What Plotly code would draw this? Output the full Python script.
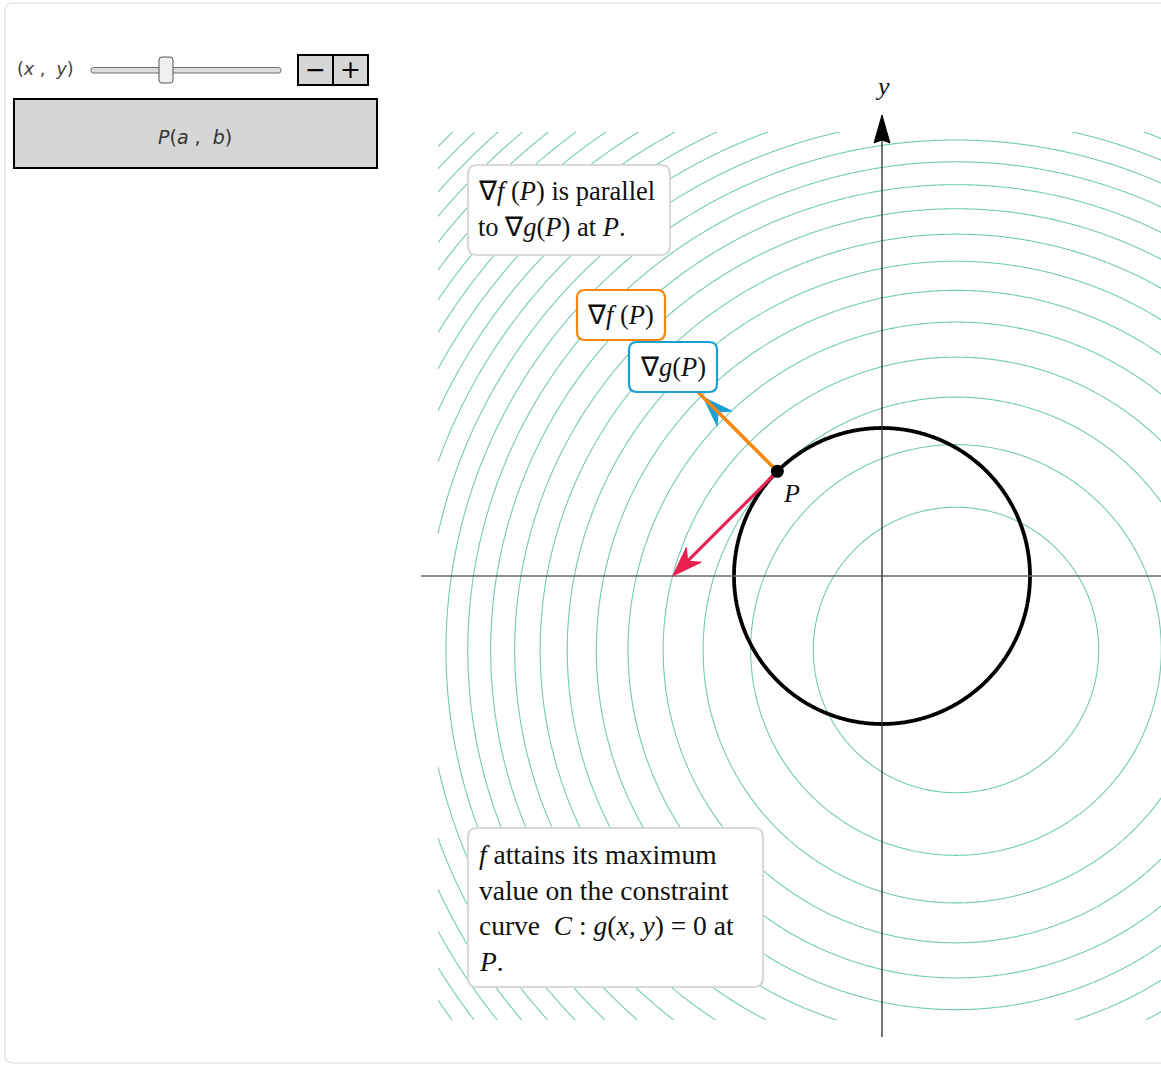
import numpy as np
import plotly.graph_objects as go

# ---------------- figure geometry (pixels) ----------------
W, H = 1161, 1066
ORIGIN_PX = (882.0, 576.0)   # pixel position of (0, 0)
SCALE = 148.0                 # pixels per unit

# ---------------- data ----------------
P = (-0.7071, 0.7071)                  # point of tangency
f_center = (0.5, -0.5)                 # f(x,y) = (x-0.5)^2 + (y+0.5)^2
f_level_start = 0.93
f_level_step = 0.995
f_level_end = 30.0
contour_box = (-3.0, 3.0)
constraint_radius = 1.0                # g(x,y) = x^2 + y^2 - 1
grad_f_P = (-2.414, 2.414)
grad_g_P = (-1.414, 1.414)
grad_display_scale = 0.354
tangent_P = (-0.7071, -0.7071)
axis_extent = 3.115

# colours
C_CONTOUR = "#72ccb2"
C_F = "#f7870a"
C_G = "#1a9fd8"
C_T = "#e8214f"
C_BOX = "#d9d9d9"

SERIF = "Liberation Serif"
SANS = "DejaVu Sans"

x_range = [(0 - ORIGIN_PX[0]) / SCALE, (W - ORIGIN_PX[0]) / SCALE]
y_range = [(ORIGIN_PX[1] - H) / SCALE, ORIGIN_PX[1] / SCALE]


def px(x):
    return x / W


def py(y):
    return 1 - y / H


def rrect_path(x0, y0, x1, y1, r):
    return (f"M {px(x0 + r)},{py(y0)} L {px(x1 - r)},{py(y0)} "
            f"Q {px(x1)},{py(y0)} {px(x1)},{py(y0 + r)} "
            f"L {px(x1)},{py(y1 - r)} Q {px(x1)},{py(y1)} {px(x1 - r)},{py(y1)} "
            f"L {px(x0 + r)},{py(y1)} Q {px(x0)},{py(y1)} {px(x0)},{py(y1 - r)} "
            f"L {px(x0)},{py(y0 + r)} Q {px(x0)},{py(y0)} {px(x0 + r)},{py(y0)} Z")


def head(tip, direction, L, Wd, notch):
    d = np.array(direction, float)
    u = d / np.linalg.norm(d)
    n = np.array([-u[1], u[0]])
    t = np.array(tip, float)
    back = t - L * u
    inner = t - (L - notch) * u
    pts = [t, back + Wd * n, inner, back - Wd * n, t]
    return [p[0] for p in pts], [p[1] for p in pts], inner


fig = go.Figure()

# level curves of f
gx = np.linspace(contour_box[0], contour_box[1], 361)
gy = np.linspace(contour_box[0], contour_box[1], 361)
GX, GY = np.meshgrid(gx, gy)
FZ = (GX - f_center[0]) ** 2 + (GY - f_center[1]) ** 2
fig.add_trace(go.Contour(
    x=gx, y=gy, z=FZ, showscale=False, hoverinfo="skip",
    colorscale=[[0, C_CONTOUR], [1, C_CONTOUR]],
    contours=dict(coloring="lines", start=f_level_start, end=f_level_end,
                  size=f_level_step, showlabels=False),
    line=dict(width=1.1)))

# axes
fig.add_trace(go.Scatter(x=[-axis_extent, x_range[1] + 1], y=[0, 0], mode="lines",
                         line=dict(color="#6a6a6a", width=1.7), hoverinfo="skip"))
yhx, yhy, yinner = head((0, axis_extent), (0, 1), 28 / SCALE, 8 / SCALE, 3 / SCALE)
fig.add_trace(go.Scatter(x=[0, 0], y=[-axis_extent, yinner[1]], mode="lines",
                         line=dict(color="#3a3a3a", width=1.4), hoverinfo="skip"))
fig.add_trace(go.Scatter(x=yhx, y=yhy, mode="lines", fill="toself", fillcolor="black",
                         line=dict(color="black", width=1), hoverinfo="skip"))

# constraint curve g = 0
cx = np.linspace(-1.3, 1.3, 261)
CX, CY = np.meshgrid(cx, cx)
GZ = CX ** 2 + CY ** 2
fig.add_trace(go.Contour(
    x=cx, y=cx, z=GZ, showscale=False, hoverinfo="skip",
    colorscale=[[0, "black"], [1, "black"]],
    contours=dict(coloring="lines", start=constraint_radius ** 2,
                  end=constraint_radius ** 2, size=1, showlabels=False),
    line=dict(width=3.8)))


def add_arrow(vec, color, L, Wd, notch, width):
    tip = (P[0] + vec[0], P[1] + vec[1])
    hx, hy, inner = head(tip, vec, L, Wd, notch)
    fig.add_trace(go.Scatter(x=[P[0], inner[0]], y=[P[1], inner[1]], mode="lines",
                             line=dict(color=color, width=width), hoverinfo="skip"))
    fig.add_trace(go.Scatter(x=hx, y=hy, mode="lines", fill="toself", fillcolor=color,
                             line=dict(color=color, width=1), hoverinfo="skip"))


add_arrow((grad_g_P[0] * grad_display_scale, grad_g_P[1] * grad_display_scale),
          C_G, 30 / SCALE, 10.5 / SCALE, 9 / SCALE, 1.5)
add_arrow((grad_f_P[0] * grad_display_scale, grad_f_P[1] * grad_display_scale),
          C_F, 30 / SCALE, 10.5 / SCALE, 9 / SCALE, 3.4)
add_arrow(tangent_P, C_T, 30 / SCALE, 10.5 / SCALE, 9 / SCALE, 3.2)

# point P
fig.add_trace(go.Scatter(x=[P[0]], y=[P[1]], mode="markers",
                         marker=dict(color="black", size=13), hoverinfo="skip"))

shapes = []
# outer frame
shapes.append(dict(type="path", xref="paper", yref="paper", layer="below",
                   path=rrect_path(5, 3, W + 20, 1063, 8),
                   line=dict(color="#e6e6e6", width=1.5), fillcolor="rgba(0,0,0,0)"))
# label boxes
for (x0, y0, x1, y1, col, r) in [(468, 165, 670, 255, C_BOX, 9),
                                 (577, 290, 665, 340, C_F, 8),
                                 (629, 342, 717, 392, C_G, 8),
                                 (468, 828, 763, 987, C_BOX, 9)]:
    shapes.append(dict(type="path", xref="paper", yref="paper", layer="above",
                       path=rrect_path(x0, y0, x1, y1, r),
                       line=dict(color=col, width=2.2), fillcolor="white"))

# control panel
shapes.append(dict(type="path", xref="paper", yref="paper", layer="above",
                   path=rrect_path(91, 67.5, 281, 73, 2.5),
                   line=dict(color="#6e6e6e", width=1), fillcolor="#dcdcdc"))
shapes.append(dict(type="path", xref="paper", yref="paper", layer="above",
                   path=rrect_path(159, 57, 173, 83, 3),
                   line=dict(color="#555555", width=1), fillcolor="#f0f0f0"))
for (x0, x1) in [(298, 333), (333, 368)]:
    shapes.append(dict(type="rect", xref="paper", yref="paper", layer="above",
                       x0=px(x0), x1=px(x1), y0=py(85), y1=py(55),
                       line=dict(color="black", width=2), fillcolor="#d6d6d6"))
shapes.append(dict(type="rect", xref="paper", yref="paper", layer="above",
                   x0=px(14), x1=px(377), y0=py(168), y1=py(99),
                   line=dict(color="black", width=2), fillcolor="#d6d6d6"))

annotations = []


def text(x, y, s, size=27.5, family=SERIF, color="#111111", xanchor="left"):
    annotations.append(dict(x=px(x), y=py(y), xref="paper", yref="paper", text=s,
                            showarrow=False, xanchor=xanchor, yanchor="middle",
                            font=dict(family=family, size=size, color=color)))


text(476, 191, "∇<i>f</i> (<i>P</i>) is parallel", size=26.5)
text(476, 227, "to ∇<i>g</i>(<i>P</i>) at <i>P</i>.", size=26.5)
text(621, 315, "∇<i>f</i> (<i>P</i>)", size=26.5, xanchor="center")
text(673, 367, "∇<i>g</i>(<i>P</i>)", size=26.5, xanchor="center")
text(477, 854, "<i>f</i> attains its maximum")
text(477, 890, "value on the constraint")
text(477, 925, "curve  <i>C</i> : <i>g</i>(<i>x</i>, <i>y</i>) = 0 at")
text(477, 961, "<i>P</i>.")
text(791, 493, "<i>P</i>", size=26, xanchor="center")
text(882, 87, "<i>y</i>", size=26, xanchor="center")

text(45, 69, "(<i>x</i> ,  <i>y</i>)", size=17.5, family=SANS, color="#444444", xanchor="center")
text(315.5, 70, "−", size=25, family=SANS, color="black", xanchor="center")
text(350.5, 70, "+", size=25, family=SANS, color="black", xanchor="center")
text(195, 137, "<i>P</i>(<i>a</i> ,  <i>b</i>)", size=19, family=SANS, color="#333333",
     xanchor="center")

fig.update_layout(
    width=W, height=H, autosize=False,
    margin=dict(l=0, r=0, t=0, b=0, pad=0),
    paper_bgcolor="white", plot_bgcolor="white",
    showlegend=False,
    xaxis=dict(range=x_range, visible=False, fixedrange=True),
    yaxis=dict(range=y_range, visible=False, fixedrange=True),
    shapes=shapes, annotations=annotations,
)

fig.write_html("out.html", config={"displayModeBar": False, "staticPlot": True})
